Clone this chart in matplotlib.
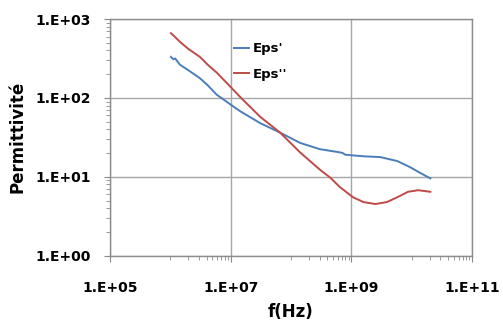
import numpy as np
import matplotlib
matplotlib.use("Agg")
import matplotlib.pyplot as plt
from matplotlib.ticker import FixedLocator, NullFormatter

# values (log10 of frequency and permittivity)
log_f_eps1 = [6.01, 6.05, 6.08, 6.16, 6.30, 6.49, 6.62, 6.77, 7.01, 7.16, 7.49,
              7.82, 8.15, 8.48, 8.81, 8.86, 8.90, 9.20, 9.48, 9.76, 9.98,
              10.14, 10.31]
log_eps1 = [2.52, 2.49, 2.50, 2.42, 2.35, 2.25, 2.16, 2.04, 1.91, 1.83, 1.68,
            1.56, 1.43, 1.35, 1.31, 1.30, 1.28, 1.26, 1.25, 1.20, 1.12,
            1.05, 0.98]

log_f_eps2 = [6.01, 6.08, 6.16, 6.30, 6.49, 6.62, 6.77, 7.01, 7.16, 7.49, 7.82,
              8.15, 8.48, 8.65, 8.81, 9.03, 9.20, 9.40, 9.59, 9.76, 9.94,
              10.11, 10.31]
log_eps2 = [2.82, 2.77, 2.71, 2.62, 2.52, 2.42, 2.32, 2.13, 2.01, 1.76, 1.56,
            1.31, 1.09, 0.99, 0.87, 0.74, 0.68, 0.655, 0.68, 0.74, 0.81,
            0.83, 0.81]

x_ticks = [1e5, 1e7, 1e9, 1e11]
x_labels = ["1.E+05", "1.E+07", "1.E+09", "1.E+11"]
y_ticks = [1e0, 1e1, 1e2, 1e3]
y_labels = ["1.E+00", "1.E+01", "1.E+02", "1.E+03"]

f1 = 10 ** np.array(log_f_eps1)
e1 = 10 ** np.array(log_eps1)
f2 = 10 ** np.array(log_f_eps2)
e2 = 10 ** np.array(log_eps2)

fig = plt.figure(figsize=(5.03, 3.21), dpi=100)
ax = fig.add_axes([0.2187, 0.2034, 0.7196, 0.7374])

ax.plot(f1, e1, color="#4a7ebb", linewidth=1.4, label="Eps'")
ax.plot(f2, e2, color="#be4b48", linewidth=1.4, label="Eps''")

ax.set_xscale("log")
ax.set_yscale("log")
ax.set_xlim(1e5, 1e11)
ax.set_ylim(1e0, 1e3)

ax.xaxis.set_major_locator(FixedLocator(x_ticks))
ax.set_xticklabels(x_labels)
ax.yaxis.set_major_locator(FixedLocator(y_ticks))
ax.set_yticklabels(y_labels)

# Excel style minor ticks
xminor = [k * 10 ** (e + 1) for e in (5, 7, 9) for k in range(1, 10)]
ax.xaxis.set_minor_locator(FixedLocator(xminor))
yminor = [k * 10 ** e for e in (0, 1, 2) for k in range(2, 10)]
ax.yaxis.set_minor_locator(FixedLocator(yminor))
ax.xaxis.set_minor_formatter(NullFormatter())
ax.yaxis.set_minor_formatter(NullFormatter())

ax.tick_params(which="major", direction="out", length=4, color="#888888",
               labelsize=10, pad=10)
ax.tick_params(which="minor", direction="out", length=3, color="#888888")
ax.tick_params(axis="x", which="major", pad=14)
for lab in ax.get_xticklabels() + ax.get_yticklabels():
    lab.set_fontweight("bold")

ax.grid(True, which="major", color="#a6a6a6", linewidth=1)
for s in ax.spines.values():
    s.set_color("#8c8c8c")
    s.set_linewidth(1)

ax.set_xlabel("f(Hz)", fontsize=12, fontweight="bold", labelpad=6)
ax.set_ylabel("Permittivité", fontsize=12, fontweight="bold", labelpad=6)

ax.legend(loc="upper left", bbox_to_anchor=(0.325, 0.93), frameon=False,
          handlelength=1.1, handletextpad=0.3, labelspacing=0.95,
          borderpad=0, prop={"weight": "bold", "size": 9.5})

fig.savefig("out.png", dpi=100)
